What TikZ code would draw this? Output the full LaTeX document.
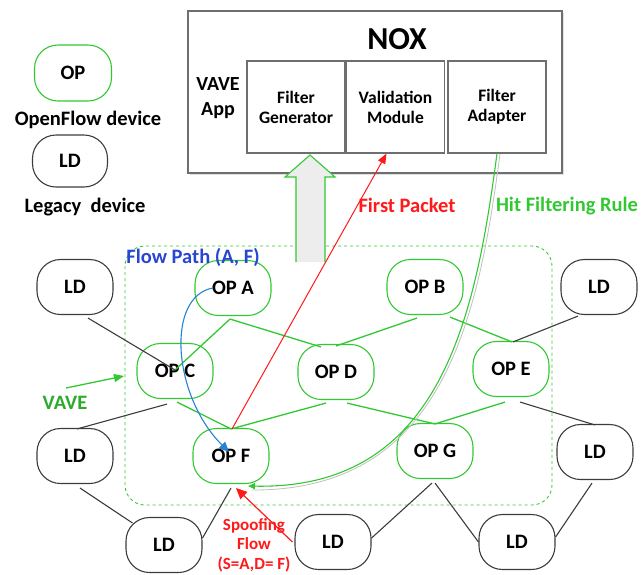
\documentclass[tikz,border=0pt]{standalone}
\usepackage{fontspec}
\setmainfont{Carlito}
\usetikzlibrary{arrows.meta}
\definecolor{vgreen}{RGB}{50,200,50}
\definecolor{ldgray}{RGB}{60,60,60}
\definecolor{boxgray}{RGB}{110,110,110}
\definecolor{vred}{RGB}{255,25,25}
\definecolor{vblue}{RGB}{40,130,210}
\definecolor{tblue}{RGB}{40,70,210}
\tikzset{
  dev/.style={rounded corners=23.5pt, minimum width=76pt, minimum height=55pt,
    line width=1.1pt, font=\bfseries\fontsize{20.5}{24}\selectfont, inner sep=0pt},
  opnode/.style={dev, draw=vgreen},
  ldnode/.style={dev, draw=ldgray},
  module/.style={draw=boxgray, line width=1.2pt, minimum width=98pt, minimum height=92pt,
    align=center, font=\bfseries\fontsize{17.5}{20}\selectfont, inner sep=0pt},
  lbl/.style={font=\bfseries\fontsize{20.5}{24}\selectfont, inner sep=0pt},
  glink/.style={vgreen, line width=1.3pt},
  klink/.style={ldgray, line width=1.1pt},
}
\begin{document}
\begin{tikzpicture}[x=1pt,y=-1pt]
\useasboundingbox (0,0) rectangle (642,574);

% legend
\node[opnode, minimum width=77pt, minimum height=56pt] (legop) at (73,73) {OP};
\node[lbl] (legoptxt) at (88,120) {OpenFlow device};
\node[ldnode, minimum width=75pt, minimum height=52pt] (legld) at (70,161) {LD};
\node[lbl] (legldtxt) at (85,207) {Legacy~ device};

% NOX controller with the VAVE application modules
\fill[black!12] (190,13) rectangle (564,175);
\draw[boxgray, line width=1.2pt, fill=white] (188,11) rectangle (562,173);
\node[font=\bfseries\fontsize{32}{36}\selectfont, inner sep=0pt] (nox) at (397,39) {NOX};
\node[lbl, align=center, font=\bfseries\fontsize{20}{25}\selectfont] (app) at (218,98) {VAVE\\App};
\node[module, fill=white] (fg) at (296,107) {Filter\\Generator};
\node[module, fill=white] (vm) at (395.5,107) {Validation\\Module};
\node[module, fill=white] (fa) at (497,107) {Filter\\Adapter};

% VAVE region
\draw[vgreen, dashed, line width=0.9pt, rounded corners=20pt] (125,246) rectangle (552,505);

% upward hollow arrow into the filter generator
\fill[black!7] (296,262) -- (296,177) -- (285,177) -- (310,155) -- (335,177) -- (325,177) -- (325,262) -- cycle;
\draw[vgreen, line width=1.1pt] (296,262) -- (296,177) -- (285,177) -- (310,155) -- (335,177) -- (325,177) -- (325,262);

% devices
\node[ldnode] (ld1) at (75,287) {LD};
\node[ldnode] (ld2) at (75,456) {LD};
\node[ldnode] (ld3) at (164,545) {LD};
\node[ldnode] (ld4) at (333,542) {LD};
\node[ldnode] (ld5) at (517,542) {LD};
\node[ldnode] (ld6) at (595,452) {LD};
\node[ldnode] (ld7) at (599,287) {LD};
\node[opnode] (opa) at (233,288) {OP A};
\node[opnode] (opb) at (425,287) {OP B};
\node[opnode] (opc) at (175,371) {OP C};
\node[opnode] (opd) at (336,372) {OP D};
\node[opnode] (ope) at (511,369) {OP E};
\node[opnode] (opf) at (231,456) {OP F};
\node[opnode] (opg) at (435,451) {OP G};

% OpenFlow links
\draw[glink] ([xshift=-3pt,yshift=-3pt]opa.south) -- ([yshift=-27pt]opc.north);
\draw[glink] ([xshift=-3pt,yshift=-3pt]opa.south) -- ([xshift=-15pt,yshift=-3pt]opd.north);
\draw[glink] ([xshift=2pt,yshift=-3pt]opc.south) -- ([yshift=-1pt]opf.north);
\draw[glink] ([yshift=-1pt]opf.north) -- ([xshift=-10pt,yshift=-3pt]opd.south);
\draw[glink] ([xshift=-8pt,yshift=-3pt]opb.south) -- ([yshift=-2pt]opd.north);
\draw[glink] ([xshift=25pt,yshift=-2pt]opb.south) -- ([xshift=1pt,yshift=-1pt]ope.north);
\draw[glink] ([xshift=11pt,yshift=-3pt]opd.south) -- ([yshift=-1pt]opg.north);
\draw[glink] ([xshift=-6pt,yshift=-5pt]ope.south) -- ([yshift=-1pt]opg.north);

% legacy links
\draw[klink] ([xshift=13pt,yshift=-3pt]ld1.south) -- ([yshift=-27pt]opc.north);
\draw[klink] ([xshift=-8pt,yshift=-5pt]opc.south) -- ([xshift=2pt,yshift=-1pt]ld2.north);
\draw[klink] ([xshift=5pt,yshift=-4pt]ld2.south) -- ([shift={(7pt,-6pt)}]ld3.north west);
\draw[klink] ([yshift=7pt]ld3.east) -- ([yshift=-4pt]opf.south);
\draw[klink] ([yshift=4pt]ld4.east) -- ([xshift=-3pt,yshift=-4pt]opg.south);
\draw[klink] ([yshift=-4pt]opg.south) -- ([yshift=0pt]ld5.west);
\draw[klink] ([yshift=5pt]ld5.east) -- ([xshift=-3pt,yshift=-3pt]ld6.south);
\draw[klink] ([xshift=9pt,yshift=-5pt]ope.south) -- ([yshift=-1pt]ld6.north);
\draw[klink] ([xshift=2pt,yshift=-1pt]ope.north) -- ([xshift=-21pt,yshift=-1pt]ld7.south);

% first packet towards the validation module
\draw[vred, line width=1pt, -{Triangle[length=10pt,width=8pt]}] ([xshift=1pt,yshift=-1pt]opf.north) -- ([xshift=-9pt]vm.south);
\node[lbl, text=vred] (fp) at (407,205) {First Packet};

% filtering rule installed back at OP F
\draw[black!25, line width=0.8pt] (500,154) .. controls (478,320) and (443,491) .. (252,490);
\draw[vgreen, line width=1.1pt, -{Triangle[length=7pt,width=6pt]}] (fa.south) .. controls (475,320) and (440,490) .. (248,486);
\node[lbl, text=vgreen] (hit) at (567,206) {Hit Filtering Rule};

% flow path from A to F
\draw[vblue, line width=1.1pt, -{Triangle[length=10pt,width=9pt]}] (213,288) .. controls (166,296) and (172,395) .. (229,452);
\node[lbl, text=tblue] (fpath) at (193,257) {Flow Path (A, F)};

% spoofing flow entering OP F
\draw[vred, line width=1.2pt, -{Triangle[length=11pt,width=10pt]}] ([xshift=-2pt]ld4.west) -- ([xshift=5pt,yshift=-4pt]opf.south);
\node[lbl, text=vred, align=center, font=\bfseries\fontsize{17}{19.5}\selectfont] (spoof) at (254,545) {Spoofing\\Flow\\(S=A,D= F)};

% VAVE label
\node[lbl, text=vgreen!85!black] (vave) at (65,403) {VAVE};
\coordinate (vavetail) at (66,388);
\coordinate (vavehead) at (124,376);
\draw[vgreen, line width=1.3pt, -{Triangle[length=10pt,width=8pt]}] (vavetail) -- (vavehead);
\end{tikzpicture}
\end{document}
